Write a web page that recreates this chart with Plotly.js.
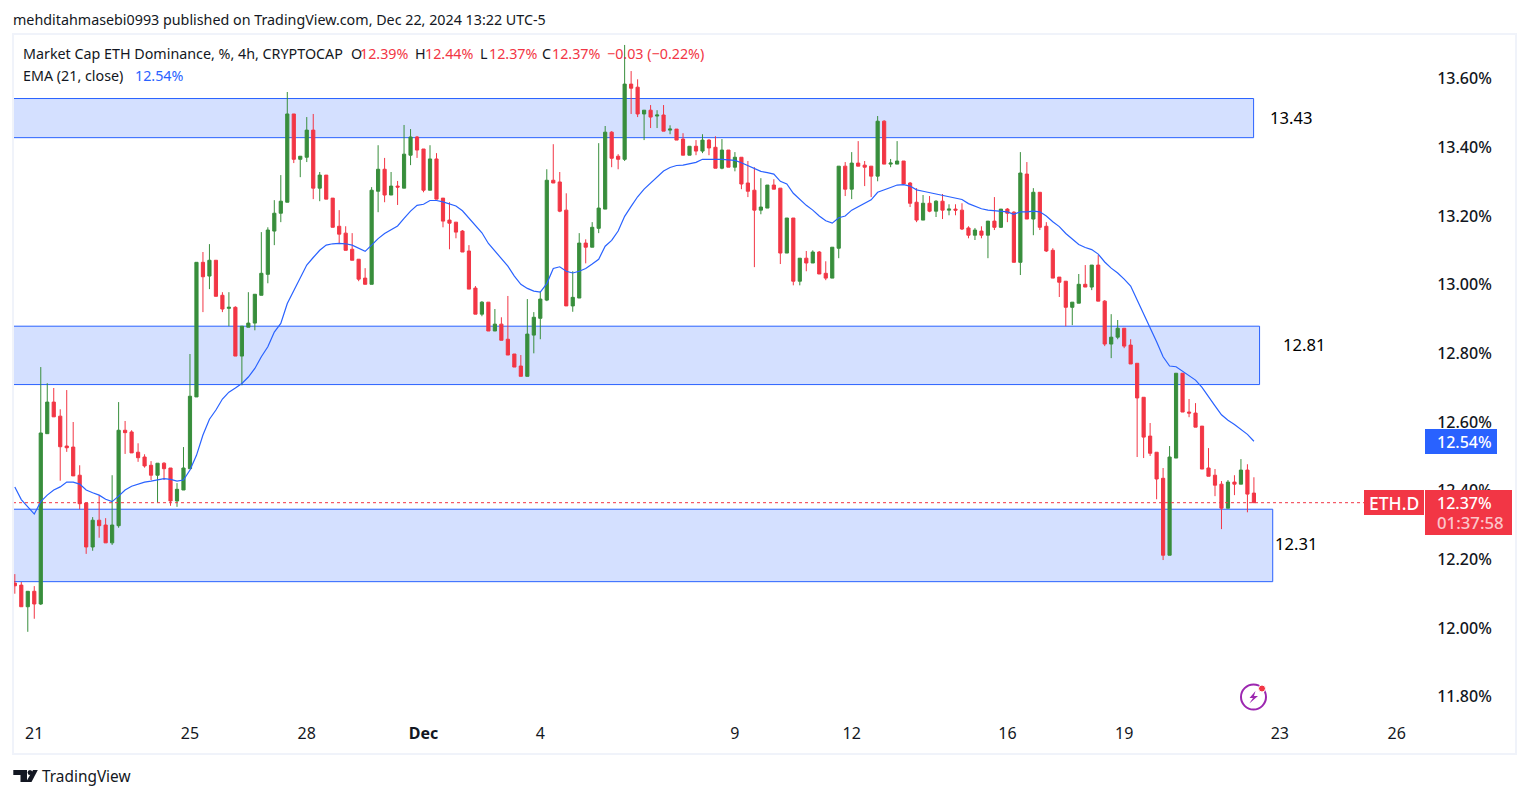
<!DOCTYPE html>
<html>
<head>
<meta charset="utf-8">
<script src="https://cdn.plot.ly/plotly-3.0.1.min.js"></script>
<style>html,body{margin:0;padding:0;background:#fff}#chart{width:1529px;height:798px}</style>
</head>
<body>
<div id="chart"></div>
<script>
// 4h candles, first candle index -3 relative to 2024-11-21 00:00
const firstIndex = -3;
const openValues = [
12.131,12.125,12.062,12.107,12.070,12.566,12.658,12.617,12.530,12.527,
12.445,12.364,12.236,12.314,12.300,12.248,12.298,12.576,12.571,12.512,
12.498,12.474,12.445,12.480,12.466,12.370,12.402,12.464,12.673,13.065,
13.025,13.071,12.969,12.931,12.934,12.792,12.876,12.888,12.969,13.030,
13.156,13.208,13.240,13.497,13.365,13.371,13.450,13.281,13.319,13.252,
13.170,13.150,13.103,13.074,13.019,13.001,13.272,13.336,13.261,13.287,
13.281,13.377,13.430,13.395,13.275,13.366,13.252,13.188,13.182,13.156,
13.098,12.990,12.914,12.949,12.865,12.885,12.841,12.798,12.763,12.733,
12.853,12.902,12.955,13.304,13.299,13.217,12.938,12.961,13.121,13.109,
13.164,13.220,13.444,13.374,13.365,13.584,13.575,13.497,13.508,13.491,
13.494,13.450,13.453,13.424,13.377,13.403,13.389,13.421,13.400,13.339,
13.392,13.342,13.371,13.296,13.275,13.217,13.223,13.290,13.281,13.092,
13.194,13.010,13.077,13.063,13.095,13.033,13.019,13.106,13.345,13.278,
13.354,13.348,13.345,13.316,13.476,13.351,13.351,13.360,13.296,13.240,
13.188,13.237,13.214,13.243,13.217,13.220,13.217,13.165,13.144,13.156,
13.144,13.185,13.167,13.220,13.211,13.065,13.322,13.191,13.269,13.170,
13.100,13.022,13.010,12.934,12.946,13.001,12.993,13.057,12.952,12.827,
12.847,12.873,12.824,12.771,12.672,12.559,12.512,12.436,12.212,12.495,
12.742,12.629,12.626,12.588,12.466,12.445,12.419,12.349,12.425,12.419,
12.460,12.393];
const highValues = [
12.157,12.134,12.107,12.122,12.760,12.713,12.699,12.637,12.693,12.600,
12.474,12.364,12.323,12.387,12.320,12.445,12.658,12.603,12.576,12.538,
12.506,12.486,12.480,12.483,12.466,12.422,12.527,12.798,13.065,13.095,
13.118,13.071,12.978,12.978,12.937,12.879,12.978,12.972,13.153,13.167,
13.246,13.319,13.561,13.497,13.374,13.488,13.497,13.328,13.319,13.252,
13.217,13.170,13.150,13.074,13.048,13.284,13.406,13.369,13.328,13.302,
13.465,13.453,13.433,13.395,13.406,13.383,13.252,13.240,13.182,13.159,
13.115,12.996,12.952,12.949,12.929,12.905,12.967,12.798,12.795,12.958,
12.920,12.981,13.336,13.409,13.328,13.266,13.039,13.150,13.132,13.182,
13.412,13.462,13.447,13.380,13.698,13.622,13.598,13.508,13.523,13.508,
13.523,13.464,13.453,13.441,13.403,13.421,13.438,13.424,13.432,13.424,
13.392,13.386,13.371,13.360,13.342,13.310,13.290,13.307,13.281,13.194,
13.194,13.077,13.098,13.100,13.098,13.068,13.109,13.345,13.357,13.386,
13.418,13.360,13.345,13.491,13.479,13.366,13.418,13.360,13.299,13.281,
13.261,13.258,13.246,13.264,13.234,13.234,13.237,13.170,13.165,13.170,
13.185,13.255,13.220,13.223,13.214,13.386,13.357,13.281,13.269,13.182,
13.106,13.022,13.010,12.949,13.031,13.057,13.057,13.086,12.955,12.914,
12.897,12.873,12.841,12.771,12.672,12.597,12.512,12.466,12.530,12.742,
12.742,12.667,12.655,12.588,12.524,12.463,12.428,12.431,12.445,12.492,
12.477,12.439];
const lowValues = [
12.100,12.062,11.989,12.027,12.067,12.566,12.615,12.429,12.513,12.443,
12.346,12.216,12.225,12.263,12.248,12.242,12.292,12.507,12.510,12.484,
12.467,12.431,12.365,12.431,12.356,12.353,12.402,12.464,12.673,12.920,
12.987,12.966,12.920,12.879,12.792,12.707,12.876,12.867,12.969,13.004,
13.115,13.182,13.240,13.354,13.313,13.357,13.249,13.243,13.249,13.167,
13.118,13.100,13.071,13.010,13.001,13.001,13.211,13.240,13.261,13.232,
13.281,13.348,13.369,13.269,13.275,13.249,13.167,13.103,13.135,13.095,
12.987,12.914,12.908,12.865,12.865,12.838,12.795,12.760,12.733,12.733,
12.800,12.841,12.952,13.296,13.211,12.938,12.921,12.961,13.062,13.109,
13.150,13.220,13.342,13.336,13.360,13.497,13.488,13.421,13.456,13.456,
13.447,13.438,13.421,13.377,13.377,13.377,13.383,13.377,13.339,13.336,
13.342,13.330,13.278,13.255,13.051,13.205,13.223,13.278,13.060,13.092,
12.998,12.998,13.039,13.063,13.031,13.013,13.019,13.077,13.258,13.249,
13.345,13.287,13.255,13.301,13.351,13.342,13.351,13.293,13.226,13.182,
13.188,13.211,13.197,13.191,13.202,13.202,13.159,13.135,13.130,13.135,
13.077,13.159,13.165,13.182,13.065,13.028,13.191,13.144,13.159,13.095,
13.019,12.964,12.879,12.882,12.946,12.993,12.984,12.952,12.821,12.786,
12.841,12.815,12.769,12.498,12.495,12.501,12.375,12.198,12.212,12.495,
12.629,12.614,12.585,12.463,12.442,12.384,12.288,12.349,12.387,12.419,
12.337,12.365];
const closeValues = [
12.123,12.062,12.107,12.070,12.568,12.658,12.615,12.528,12.525,12.443,
12.362,12.236,12.314,12.298,12.248,12.300,12.576,12.569,12.510,12.496,
12.472,12.445,12.480,12.464,12.370,12.404,12.466,12.675,13.065,13.023,
13.071,12.966,12.929,12.934,12.792,12.879,12.888,12.972,13.033,13.159,
13.208,13.243,13.497,13.365,13.374,13.450,13.281,13.319,13.249,13.167,
13.147,13.100,13.071,13.016,13.001,13.275,13.336,13.261,13.287,13.284,
13.380,13.430,13.392,13.275,13.366,13.249,13.185,13.179,13.153,13.095,
12.987,12.914,12.949,12.865,12.885,12.838,12.795,12.760,12.733,12.856,
12.905,12.958,13.304,13.296,13.214,12.938,12.963,13.121,13.109,13.167,
13.223,13.444,13.368,13.365,13.584,13.572,13.497,13.508,13.488,13.494,
13.447,13.453,13.421,13.377,13.403,13.389,13.421,13.398,13.339,13.392,
13.342,13.371,13.293,13.272,13.217,13.226,13.290,13.278,13.092,13.194,
13.010,13.077,13.063,13.095,13.031,13.019,13.109,13.345,13.278,13.354,
13.345,13.342,13.316,13.476,13.351,13.354,13.360,13.293,13.237,13.188,
13.237,13.214,13.243,13.217,13.220,13.217,13.162,13.144,13.159,13.144,
13.185,13.167,13.220,13.208,13.065,13.325,13.191,13.269,13.167,13.098,
13.019,13.007,12.934,12.949,13.001,12.993,13.057,12.952,12.827,12.847,
12.873,12.821,12.769,12.670,12.556,12.509,12.434,12.212,12.498,12.742,
12.629,12.626,12.585,12.463,12.442,12.416,12.349,12.425,12.419,12.460,
12.390,12.365];
const emaValues = [
12.411,12.374,12.353,12.332,12.368,12.387,12.402,12.411,12.425,12.425,
12.419,12.402,12.394,12.387,12.375,12.368,12.384,12.402,12.413,12.420,
12.425,12.428,12.431,12.435,12.433,12.428,12.431,12.460,12.503,12.562,
12.608,12.635,12.667,12.687,12.699,12.712,12.731,12.756,12.790,12.819,
12.862,12.887,12.945,12.984,13.023,13.057,13.079,13.100,13.115,13.119,
13.120,13.119,13.115,13.105,13.097,13.115,13.134,13.149,13.161,13.171,
13.193,13.214,13.231,13.234,13.245,13.245,13.241,13.236,13.229,13.215,
13.193,13.170,13.151,13.120,13.098,13.074,13.054,13.025,13.001,12.989,
12.981,12.978,13.003,13.047,13.052,13.039,13.034,13.039,13.047,13.060,
13.074,13.112,13.129,13.156,13.199,13.228,13.256,13.278,13.295,13.314,
13.331,13.341,13.347,13.348,13.353,13.356,13.365,13.366,13.365,13.365,
13.363,13.362,13.355,13.346,13.338,13.330,13.326,13.322,13.301,13.293,
13.266,13.249,13.231,13.217,13.200,13.186,13.179,13.195,13.200,13.217,
13.227,13.239,13.247,13.269,13.277,13.283,13.290,13.291,13.287,13.276,
13.272,13.268,13.266,13.262,13.258,13.254,13.248,13.236,13.229,13.221,
13.217,13.215,13.214,13.212,13.205,13.212,13.212,13.214,13.212,13.200,
13.183,13.169,13.149,13.132,13.117,13.108,13.102,13.089,13.066,13.048,
13.034,13.016,12.996,12.955,12.916,12.877,12.834,12.790,12.763,12.761,
12.748,12.736,12.722,12.701,12.673,12.647,12.621,12.605,12.593,12.579,
12.564,12.544];

const yTickValues = [11.8,12.0,12.2,12.4,12.6,12.8,13.0,13.2,13.4,13.6];
const xTickDates = ['2024-11-21','2024-11-25','2024-11-28','2024-12-01','2024-12-04','2024-12-09','2024-12-12','2024-12-16','2024-12-19','2024-12-23','2024-12-26'];
const xTickLabels = ['21','25','28','<b>Dec</b>','4','9','12','16','19','23','26'];

const zoneTops = [13.542,12.879,12.346];
const zoneBottoms = [13.428,12.709,12.135];
const zoneEndIndex = [187.95,188.87,190.9];
const zoneLabels = ['13.43','12.81','12.31'];
const lastClose = 12.365;
const emaLast = 12.54;

// ---- helpers and layout ----
const L = 13, R = 1420, T = 35, B = 718;
const W = 1529, H = 798;
const px = x => (x - L) / (R - L);
const py = y => 1 - (y - T) / (B - T);
const dateAt = i => new Date(Date.UTC(2024,10,21) + i*4*3600e3).toISOString().replace('T',' ').slice(0,19);
const xDates = openValues.map((_, k) => dateAt(firstIndex + k));
const FONT = '"Noto Sans", sans-serif';
const RED = '#f23645', GREEN = '#388e3c', BLUE = '#2962ff', INK = '#131722';

function text(x, y, s, opt) {
  opt = opt || {};
  return {xref:'paper', yref:'paper', x:px(x), y:py(y), text:s, showarrow:false,
    xanchor:opt.anchor||'left', yanchor:'middle', align:'left',
    font:{family:FONT, size:opt.size||14.3, color:opt.color||INK, weight:opt.weight||400}, borderpad:0, borderwidth:0};
}
function box(x0,y0,x1,y1,fill){
  return {type:'rect', xref:'paper', yref:'paper', x0:px(x0), x1:px(x1), y0:py(y0), y1:py(y1),
    fillcolor:fill, line:{width:0}, layer:'above'};
}
function pathPx(points){
  return points.map((p,i)=>(i?'L':'M')+px(p[0])+','+py(p[1])).join(' ')+' Z';
}

const shapes = [];
zoneTops.forEach((t,k)=>shapes.push({type:'rect', xref:'x', yref:'y', x0:dateAt(-4), x1:dateAt(zoneEndIndex[k]), y0:zoneBottoms[k], y1:t,
  fillcolor:'rgba(41,98,255,0.2)', line:{color:BLUE,width:1}, layer:'below'}));
shapes.push({type:'line', xref:'paper', yref:'y', x0:0, x1:px(1364), y0:lastClose, y1:lastClose, line:{color:RED,width:1,dash:'dot'}, layer:'above'});
shapes.push(box(1425,429,1497,454,BLUE));
shapes.push(box(1364,490,1424,515,RED));
shapes.push(box(1425,490,1512,535,RED));
shapes.push({type:'rect', xref:'paper', yref:'paper', x0:px(13), x1:px(1516), y0:py(34), y1:py(754), line:{color:'#f0f3fa',width:2}, fillcolor:'rgba(0,0,0,0)', layer:'above'});
// flash icon
shapes.push({type:'circle', xref:'paper', yref:'paper', x0:px(1241), x1:px(1266), y0:py(684.5), y1:py(709.5), line:{color:'#9c27b0',width:2}, fillcolor:'rgba(0,0,0,0)', layer:'above'});
shapes.push({type:'path', xref:'paper', yref:'paper', path:pathPx([[1255.5,691],[1249.5,698],[1253,698],[1249.3,703.5],[1258,696],[1254,696]]), fillcolor:'#9c27b0', line:{width:0}, layer:'above'});
shapes.push({type:'circle', xref:'paper', yref:'paper', x0:px(1258.5), x1:px(1265.5), y0:py(685), y1:py(692), line:{color:'#ffffff',width:1}, fillcolor:RED, layer:'above'});
// TradingView logo
shapes.push({type:'path', xref:'paper', yref:'paper', path:pathPx([[13.3,770],[27,770],[27,782],[20.5,782],[20.5,775],[13.3,775]]), fillcolor:INK, line:{width:0}, layer:'above'});
shapes.push({type:'circle', xref:'paper', yref:'paper', x0:px(27.6), x1:px(32.4), y0:py(770), y1:py(775), fillcolor:INK, line:{width:0}, layer:'above'});
shapes.push({type:'path', xref:'paper', yref:'paper', path:pathPx([[33,770],[37.8,770],[31.5,782],[26,782]]), fillcolor:INK, line:{width:0}, layer:'above'});

const annotations = [
  text(13,19,'mehditahmasebi0993 published on TradingView.com, Dec 22, 2024 13:22 UTC-5'),
  text(23,54,'Market Cap ETH Dominance, %, 4h, CRYPTOCAP'),
  text(351,54,'O'), text(360,54,'12.39%',{color:RED}),
  text(415,54,'H'), text(425,54,'12.44%',{color:RED}),
  text(480,54,'L'), text(489,54,'12.37%',{color:RED}),
  text(542,54,'C'), text(552,54,'12.37%',{color:RED}),
  text(607,54,'−0.03 (−0.22%)',{color:RED}),
  text(23,75,'EMA (21, close)'),
  text(135,75,'12.54%',{color:BLUE}),
  text(1270,117,zoneLabels[0],{size:16.6,color:'#000'}),
  text(1283,344,zoneLabels[1],{size:16.6,color:'#000'}),
  text(1275,543,zoneLabels[2],{size:16.6,color:'#000'}),
  text(1437,441.5,emaLast.toFixed(2)+'%',{size:16,color:'#fff',weight:500}),
  text(1369,503,'ETH.D',{size:17.5,color:'#fff',weight:500}),
  text(1437,503,'12.37%',{size:16,color:'#fff',weight:500}),
  text(1437,522.5,'01:37:58',{size:16.8,color:'rgba(255,255,255,0.72)',weight:500}),
  text(42,776,'TradingView',{size:15.4})
];

const traces = [
  {type:'candlestick', x:xDates, open:openValues, high:highValues, low:lowValues, close:closeValues,
   increasing:{line:{color:GREEN,width:1},fillcolor:GREEN},
   decreasing:{line:{color:RED,width:1},fillcolor:RED},
   whiskerwidth:0, showlegend:false, hoverinfo:'skip'},
  {type:'scatter', mode:'lines', x:xDates, y:emaValues, line:{color:BLUE,width:1.2}, showlegend:false, hoverinfo:'skip'}
];

const layout = {
  width:W, height:H, paper_bgcolor:'#ffffff', plot_bgcolor:'#ffffff',
  margin:{l:L, r:W-R, t:T, b:H-B, pad:0},
  showlegend:false,
  font:{family:FONT, color:INK},
  xaxis:{type:'date', range:[dateAt(-3.28), dateAt(213.6)], rangeslider:{visible:false},
    tickmode:'array', tickvals:xTickDates, ticktext:xTickLabels, tickangle:0,
    showgrid:false, zeroline:false, showline:false, ticks:'outside', ticklen:1, tickcolor:'rgba(0,0,0,0)',
    tickfont:{family:FONT,size:16,color:INK}},
  yaxis:{side:'right', range:[11.738,13.727], tickmode:'array', tickvals:yTickValues,
    ticktext:yTickValues.map(v=>v.toFixed(2)+'%'), showgrid:false, zeroline:false, showline:false,
    ticks:'outside', ticklen:13, tickcolor:'rgba(0,0,0,0)',
    tickfont:{family:FONT,size:16,color:INK,weight:500}},
  shapes, annotations
};
Plotly.newPlot('chart', traces, layout, {displayModeBar:false, staticPlot:true});
</script>
</body>
</html>
